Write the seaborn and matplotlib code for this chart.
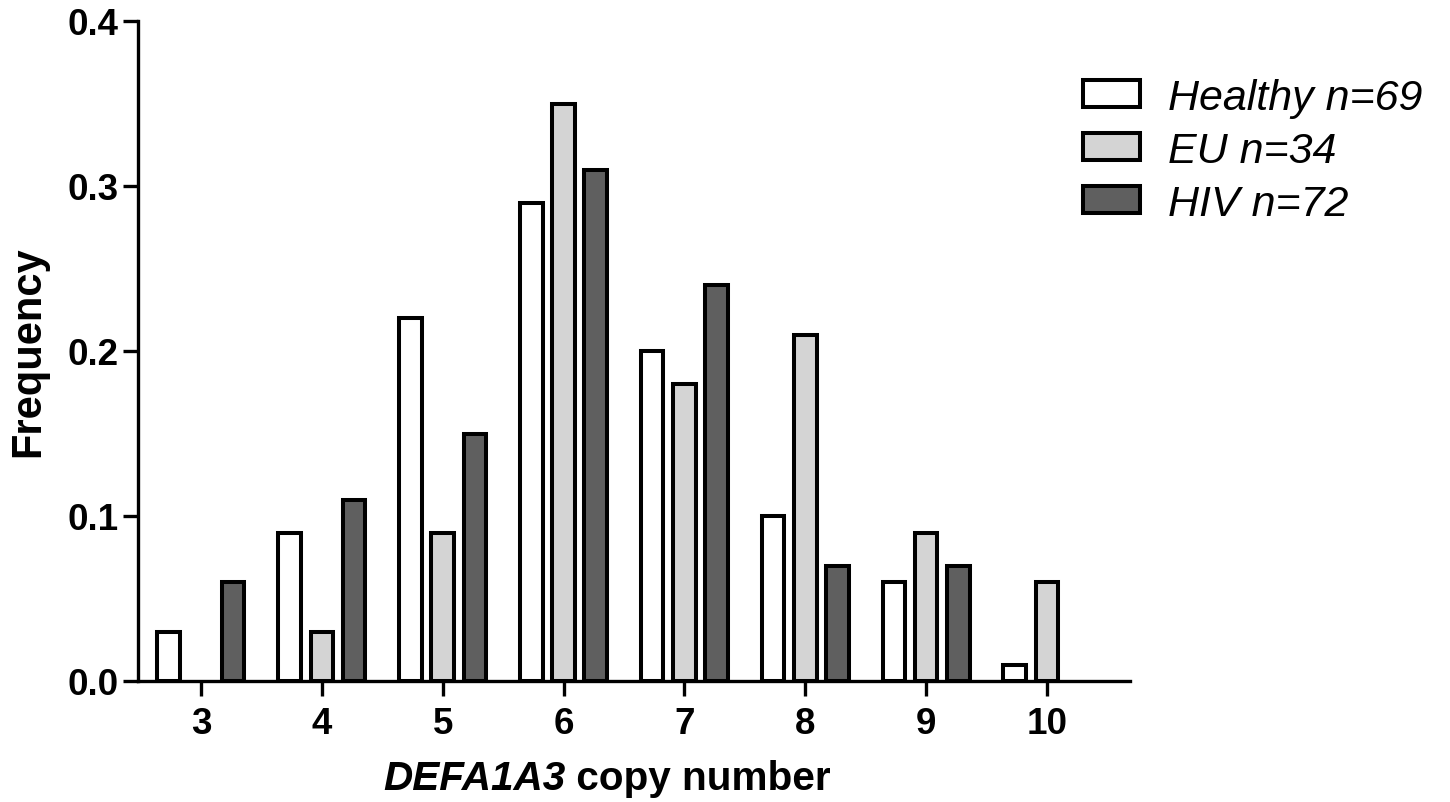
import pandas as pd
import seaborn as sns
import matplotlib.pyplot as plt
from matplotlib.ticker import FormatStrFormatter

# Data
copy_numbers = ['3', '4', '5', '6', '7', '8', '9', '10']
healthy = [0.03, 0.09, 0.22, 0.29, 0.20, 0.10, 0.06, 0.01]
eu = [0.00, 0.03, 0.09, 0.35, 0.18, 0.21, 0.09, 0.06]
hiv = [0.06, 0.11, 0.15, 0.31, 0.24, 0.07, 0.07, 0.00]
groups = ['Healthy n=69', 'EU n=34', 'HIV n=72']
colors = ['#ffffff', '#d4d4d4', '#5f5f5f']

rows = []
for name, vals in zip(groups, [healthy, eu, hiv]):
    for cn, v in zip(copy_numbers, vals):
        rows.append({'copy': cn, 'freq': v, 'group': name})
df = pd.DataFrame(rows)
# no bar is drawn where the frequency is zero
df.loc[df['freq'] == 0, 'freq'] = float('nan')

sns.set_theme(style='ticks')
plt.rcParams['font.family'] = ['Liberation Sans', 'DejaVu Sans']
plt.rcParams['text.color'] = 'black'
plt.rcParams['xtick.color'] = 'black'
plt.rcParams['ytick.color'] = 'black'
plt.rcParams['axes.labelcolor'] = 'black'

fig = plt.figure(figsize=(14.5, 8.03), dpi=100)
ax = fig.add_axes([138 / 1450, 1 - 682 / 803, (1130 - 138) / 1450, (682 - 22) / 803])

sns.barplot(data=df, x='copy', y='freq', hue='group', order=copy_numbers,
            hue_order=groups, palette=colors, saturation=1, width=0.8, gap=0.3,
            edgecolor='black', linewidth=2.9, ax=ax)

ax.set_xlim(-0.521, 7.687)
ax.set_ylim(0, 0.4)
ax.set_yticks([0, 0.1, 0.2, 0.3, 0.4])
ax.yaxis.set_major_formatter(FormatStrFormatter('%.1f'))
sns.despine(ax=ax)
for s in ['left', 'bottom']:
    ax.spines[s].set_linewidth(2.4)
    ax.spines[s].set_color('black')
ax.tick_params(axis='both', length=11, width=2.4, color='black', labelsize=26.5)
ax.tick_params(axis='y', pad=3)
ax.tick_params(axis='x', pad=7)
for lab in ax.get_xticklabels() + ax.get_yticklabels():
    lab.set_fontweight('bold')

ax.set_xlabel('')
ax.set_ylabel('Frequency', fontsize=30, fontweight='bold', labelpad=14)

# x label: italic gene name + plain bold text
t1 = fig.text(383 / 1450, 1 - 790 / 803, 'DEFA1A3', fontsize=29.2, fontweight='bold',
              fontstyle='italic', ha='left', va='baseline')
ax.annotate(' copy number', xy=(1, 0), xycoords=t1, fontsize=29.2, fontweight='bold',
            ha='left', va='bottom')

leg = ax.legend(loc='upper left', bbox_to_anchor=(1083 / 1450, 0.902),
                bbox_transform=fig.transFigure, frameon=False, borderpad=0,
                borderaxespad=0, prop={'style': 'italic', 'size': 31},
                handlelength=1.33, handleheight=0.58, handletextpad=0.65,
                labelspacing=0.3)
for h in leg.legend_handles:
    h.set_linewidth(2.9)

fig.savefig('out.png', dpi=100)
